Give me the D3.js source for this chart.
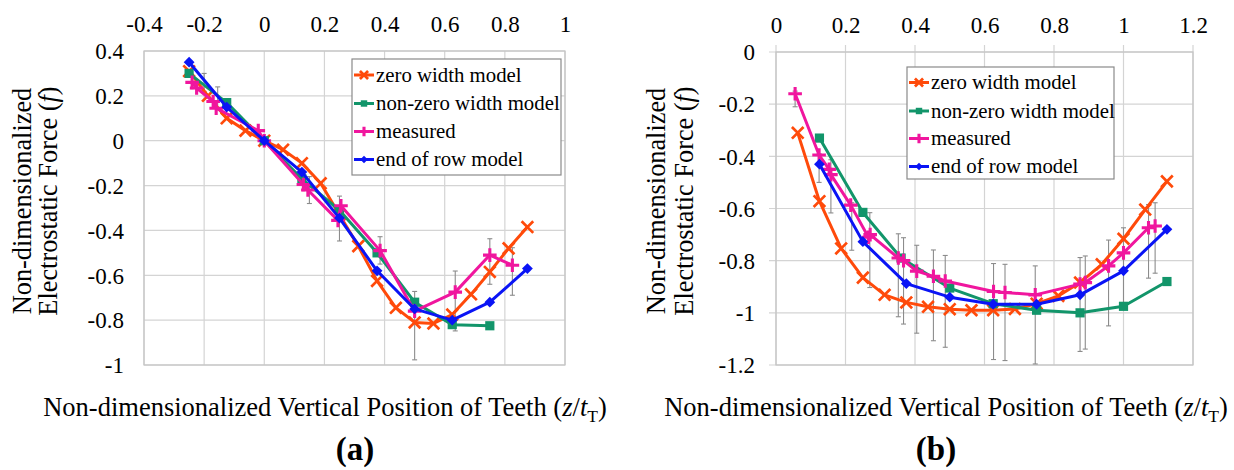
<!DOCTYPE html>
<html><head><meta charset="utf-8">
<script src="https://cdn.jsdelivr.net/npm/d3@7"></script>
<style>
body{margin:0;background:#fff}
svg{display:block}
</style>
</head><body>
<svg id="chart" width="1234" height="470"></svg>
<script>
// ---------- data ----------
const seriesNames = ["zero width model", "non-zero width model", "measured", "end of row model"];
const seriesColors = ["#FF4A0A", "#12956A", "#F0169E", "#0A14F5"];

// panel (a)
const aXTicks = [-0.4, -0.2, 0, 0.2, 0.4, 0.6, 0.8, 1];
const aXTickLabels = ["-0.4", "-0.2", "0", "0.2", "0.4", "0.6", "0.8", "1"];
const aYTicks = [0.4, 0.2, 0, -0.2, -0.4, -0.6, -0.8, -1];
const aYTickLabels = ["0.4", "0.2", "0", "-0.2", "-0.4", "-0.6", "-0.8", "-1"];
const aZeroX = [-0.25, -0.1875, -0.125, -0.0625, 0, 0.0625, 0.125, 0.1875, 0.25, 0.3125, 0.375, 0.4375, 0.5, 0.5625, 0.625, 0.6875, 0.75, 0.8125, 0.875];
const aZeroY = [0.31, 0.2, 0.1, 0.045, 0, -0.04, -0.1, -0.19, -0.33, -0.47, -0.625, -0.745, -0.81, -0.815, -0.775, -0.685, -0.585, -0.48, -0.385];
const aNonZeroX = [-0.25, -0.125, 0, 0.125, 0.25, 0.375, 0.5, 0.625, 0.75];
const aNonZeroY = [0.30, 0.17, 0, -0.17, -0.31, -0.50, -0.72, -0.82, -0.825];
const aMeasX = [-0.24, -0.225, -0.17, -0.16, -0.02, 0, 0.13, 0.145, 0.245, 0.255, 0.385, 0.5, 0.635, 0.75, 0.825];
const aMeasY = [0.26, 0.235, 0.175, 0.145, 0.045, 0, -0.195, -0.22, -0.355, -0.29, -0.49, -0.76, -0.675, -0.51, -0.555];
const aEndX = [-0.25, -0.125, 0, 0.125, 0.25, 0.375, 0.5, 0.625, 0.75, 0.875];
const aEndY = [0.35, 0.15, 0, -0.14, -0.345, -0.58, -0.75, -0.80, -0.72, -0.57];
const aErrX = [-0.2, -0.155, 0.15, 0.25, 0.385, 0.5, 0.635, 0.75, 0.825];
const aErrHi = [0.30, 0.24, -0.16, -0.247, -0.428, -0.672, -0.581, -0.437, -0.477];
const aErrLo = [0.22, 0.14, -0.28, -0.447, -0.55, -0.977, -0.848, -0.64, -0.689];

// panel (b)
const bXTicks = [0, 0.2, 0.4, 0.6, 0.8, 1, 1.2];
const bXTickLabels = ["0", "0.2", "0.4", "0.6", "0.8", "1", "1.2"];
const bYTicks = [0, -0.2, -0.4, -0.6, -0.8, -1, -1.2];
const bYTickLabels = ["0", "-0.2", "-0.4", "-0.6", "-0.8", "-1", "-1.2"];
const bZeroX = [0.0625, 0.125, 0.1875, 0.25, 0.3125, 0.375, 0.4375, 0.5, 0.5625, 0.625, 0.6875, 0.75, 0.8125, 0.875, 0.9375, 1, 1.0625, 1.125];
const bZeroY = [-0.31, -0.572, -0.753, -0.865, -0.931, -0.96, -0.977, -0.986, -0.99, -0.99, -0.985, -0.965, -0.935, -0.884, -0.814, -0.716, -0.604, -0.496];
const bNonZeroX = [0.125, 0.25, 0.36, 0.5, 0.625, 0.75, 0.875, 1, 1.125];
const bNonZeroY = [-0.33, -0.615, -0.79, -0.905, -0.965, -0.99, -1.0, -0.975, -0.88];
const bMeasX = [0.055, 0.124, 0.153, 0.158, 0.215, 0.266, 0.271, 0.352, 0.367, 0.405, 0.453, 0.487, 0.626, 0.659, 0.746, 0.875, 0.89, 0.957, 1.0, 1.072, 1.091];
const bMeasY = [-0.16, -0.395, -0.45, -0.47, -0.587, -0.71, -0.70, -0.79, -0.80, -0.84, -0.86, -0.878, -0.918, -0.922, -0.931, -0.89, -0.884, -0.82, -0.77, -0.674, -0.667];
const bEndX = [0.125, 0.25, 0.375, 0.5, 0.625, 0.75, 0.875, 1, 1.125];
const bEndY = [-0.43, -0.727, -0.888, -0.94, -0.967, -0.967, -0.931, -0.839, -0.68];
const bErrX = [0.055, 0.124, 0.158, 0.218, 0.27, 0.352, 0.367, 0.405, 0.453, 0.487, 0.626, 0.659, 0.746, 0.875, 0.89, 0.957, 1.0, 1.072, 1.091];
const bErrHi = [-0.15, -0.39, -0.413, -0.578, -0.616, -0.697, -0.712, -0.741, -0.759, -0.78, -0.811, -0.814, -0.82, -0.788, -0.782, -0.721, -0.674, -0.585, -0.578];
const bErrLo = [-0.21, -0.5, -0.617, -0.76, -0.903, -1.015, -1.043, -1.078, -1.107, -1.132, -1.179, -1.183, -1.196, -1.148, -1.139, -1.05, -0.973, -0.867, -0.848];

// ---------- drawing ----------
const FONT = "'Liberation Serif', 'Times New Roman', Times, 'DejaVu Serif', serif";
const svg = d3.select("#chart").attr("font-family", FONT);
const zip = (xs, ys) => xs.map((x, i) => ({x, y: ys[i]}));

const markerPath = {
  cross: (s) => `M${-s},${-s}L${s},${s}M${-s},${s}L${s},${-s}`,
  plus: (s) => `M${-s},0H${s}M0,${-s}V${s}`,
  square: (s) => `M${-s},${-s}H${s}V${s}H${-s}Z`,
  diamond: (s) => `M0,${-s}L${s},0L0,${s}L${-s},0Z`
};
const markerTypes = ["cross", "square", "plus", "diamond"];
const markerSizes = [5.8, 4.6, 6.8, 5.4];
const markerStroke = [2.7, 0, 3.1, 0];

function drawMarker(g, type, i, x, y, s) {
  const p = g.append("path").attr("d", markerPath[type](s))
    .attr("transform", `translate(${x},${y})`);
  if (type === "cross" || type === "plus") {
    p.attr("fill", "none").attr("stroke", seriesColors[i]).attr("stroke-width", markerStroke[i]);
  } else {
    p.attr("fill", seriesColors[i]).attr("stroke", "none");
  }
}

function txt(sel) { return sel.style("font-family", FONT).attr("fill", "#000"); }

function drawPanel(cfg) {
  const x = d3.scaleLinear().domain(cfg.xDomain).range(cfg.xRange);
  const y = d3.scaleLinear().domain(cfg.yDomain).range(cfg.yRange);
  const g = svg.append("g");
  const [x0, x1] = cfg.xRange, [y0, y1] = cfg.yRange; // y0 bottom, y1 top

  g.selectAll(".gx").data(cfg.xTicks).join("line")
    .attr("x1", d => x(d)).attr("x2", d => x(d))
    .attr("y1", y1 - cfg.tickOut).attr("y2", y0)
    .attr("stroke", "#d4d4d4").attr("stroke-width", 1.2);
  g.selectAll(".gy").data(cfg.yTicks).join("line")
    .attr("y1", d => y(d)).attr("y2", d => y(d))
    .attr("x1", x0 - cfg.tickOut).attr("x2", x1)
    .attr("stroke", "#d4d4d4").attr("stroke-width", 1.2);
  g.append("rect").attr("x", x0).attr("y", y1).attr("width", x1 - x0).attr("height", y0 - y1)
    .attr("fill", "none").attr("stroke", "#c4c4c4").attr("stroke-width", 1.2);

  const xAxis = d3.axisTop(x).tickValues(cfg.xTicks)
    .tickFormat((d, i) => cfg.xTickLabels[i]).tickSize(0).tickPadding(0);
  const xa = g.append("g").attr("transform", `translate(0,${cfg.xLabelY})`).call(xAxis);
  xa.select(".domain").remove();
  xa.attr("font-family", null).attr("font-size", null);
  txt(xa.selectAll("text")).attr("font-size", 23).attr("dy", null);

  const yAxis = d3.axisLeft(y).tickValues(cfg.yTicks)
    .tickFormat((d, i) => cfg.yTickLabels[i]).tickSize(0).tickPadding(0);
  const ya = g.append("g").attr("transform", `translate(${cfg.yLabelX},0)`).call(yAxis);
  ya.select(".domain").remove();
  ya.attr("font-family", null).attr("font-size", null);
  txt(ya.selectAll("text")).attr("font-size", 23).attr("dy", "0.34em");

  const eb = g.append("g").attr("stroke", "#8c8c8c").attr("stroke-width", 1.1);
  cfg.err.forEach(e => {
    eb.append("line").attr("x1", x(e.x)).attr("x2", x(e.x)).attr("y1", y(e.hi)).attr("y2", y(e.lo));
    eb.append("line").attr("x1", x(e.x) - 2.5).attr("x2", x(e.x) + 2.5).attr("y1", y(e.hi)).attr("y2", y(e.hi));
    eb.append("line").attr("x1", x(e.x) - 2.5).attr("x2", x(e.x) + 2.5).attr("y1", y(e.lo)).attr("y2", y(e.lo));
  });

  const line = d3.line().x(d => x(d.x)).y(d => y(d.y));
  cfg.series.forEach((pts, i) => {
    const sg = g.append("g");
    sg.append("path").datum(pts).attr("d", line).attr("fill", "none")
      .attr("stroke", seriesColors[i]).attr("stroke-width", 3).attr("stroke-linejoin", "round");
    pts.forEach(p => drawMarker(sg, markerTypes[i], i, x(p.x), y(p.y), markerSizes[i]));
  });

  const L = cfg.legend;
  const lg = g.append("g");
  lg.append("rect").attr("x", L.x).attr("y", L.y).attr("width", L.w).attr("height", L.h)
    .attr("fill", "#fff").attr("stroke", "#8a8a8a").attr("stroke-width", 1.2);
  seriesNames.forEach((name, i) => {
    const cy = L.rows[i];
    lg.append("line").attr("x1", L.mx).attr("x2", L.mx + 20).attr("y1", cy).attr("y2", cy)
      .attr("stroke", seriesColors[i]).attr("stroke-width", 3);
    drawMarker(lg, markerTypes[i], i, L.mx + 10, cy, markerSizes[i] * 0.7);
    txt(lg.append("text")).attr("x", L.tx).attr("y", cy).attr("dy", "0.33em")
      .attr("font-size", 20.8).text(name);
  });

  const xt = txt(g.append("text")).attr("x", cfg.xTitleX).attr("y", 416)
    .attr("text-anchor", "middle").attr("font-size", 26.5);
  xt.append("tspan").text("Non-dimensionalized Vertical Position of Teeth (");
  xt.append("tspan").attr("font-style", "italic").text("z");
  xt.append("tspan").text("/");
  xt.append("tspan").attr("font-style", "italic").text("t");
  xt.append("tspan").attr("font-size", 17.5).attr("dy", 6).text("T");
  xt.append("tspan").attr("dy", -6).text(")");

  txt(g.append("text")).attr("transform", `translate(${cfg.yTitleX[0]},201) rotate(-90)`)
    .attr("text-anchor", "middle").attr("font-size", 26.3).text("Non-dimensionalized");
  const yt2 = txt(g.append("text")).attr("transform", `translate(${cfg.yTitleX[1]},201) rotate(-90)`)
    .attr("text-anchor", "middle").attr("font-size", 26.3);
  yt2.append("tspan").text("Electrostatic Force (");
  yt2.append("tspan").attr("font-style", "italic").text("f");
  yt2.append("tspan").text(")");

  const pl = txt(g.append("text")).attr("x", cfg.labelX).attr("y", 460).attr("text-anchor", "middle")
    .attr("font-size", 33).attr("font-weight", "bold");
  pl.append("tspan").text("(");
  pl.append("tspan").text(cfg.label);
  pl.append("tspan").text(")");
}

drawPanel({
  xDomain: [-0.4, 1], xRange: [144, 565],
  yDomain: [-1, 0.4], yRange: [365, 51],
  xTicks: aXTicks, xTickLabels: aXTickLabels,
  yTicks: aYTicks, yTickLabels: aYTickLabels,
  tickOut: 0, xLabelY: 32, yLabelX: 124,
  err: aErrX.map((v, i) => ({x: v, hi: aErrHi[i], lo: aErrLo[i]})),
  series: [zip(aZeroX, aZeroY), zip(aNonZeroX, aNonZeroY), zip(aMeasX, aMeasY), zip(aEndX, aEndY)],
  legend: {x: 352, y: 59, w: 209, h: 116, mx: 354, tx: 376, rows: [75, 103.5, 131.5, 159.5]},
  xTitleX: 325, yTitleX: [31, 57], labelX: 355, label: "a"
});

drawPanel({
  xDomain: [0, 1.2], xRange: [776, 1193],
  yDomain: [-1.2, 0], yRange: [365, 52],
  xTicks: bXTicks, xTickLabels: bXTickLabels,
  yTicks: bYTicks, yTickLabels: bYTickLabels,
  tickOut: 7, xLabelY: 33, yLabelX: 755,
  err: bErrX.map((v, i) => ({x: v, hi: bErrHi[i], lo: bErrLo[i]})),
  series: [zip(bZeroX, bZeroY), zip(bNonZeroX, bNonZeroY), zip(bMeasX, bMeasY), zip(bEndX, bEndY)],
  legend: {x: 907, y: 67, w: 207, h: 112, mx: 909, tx: 931, rows: [82.5, 111, 138.5, 166.5]},
  xTitleX: 946, yTitleX: [665, 693], labelX: 936, label: "b"
});
</script>
</body></html>
